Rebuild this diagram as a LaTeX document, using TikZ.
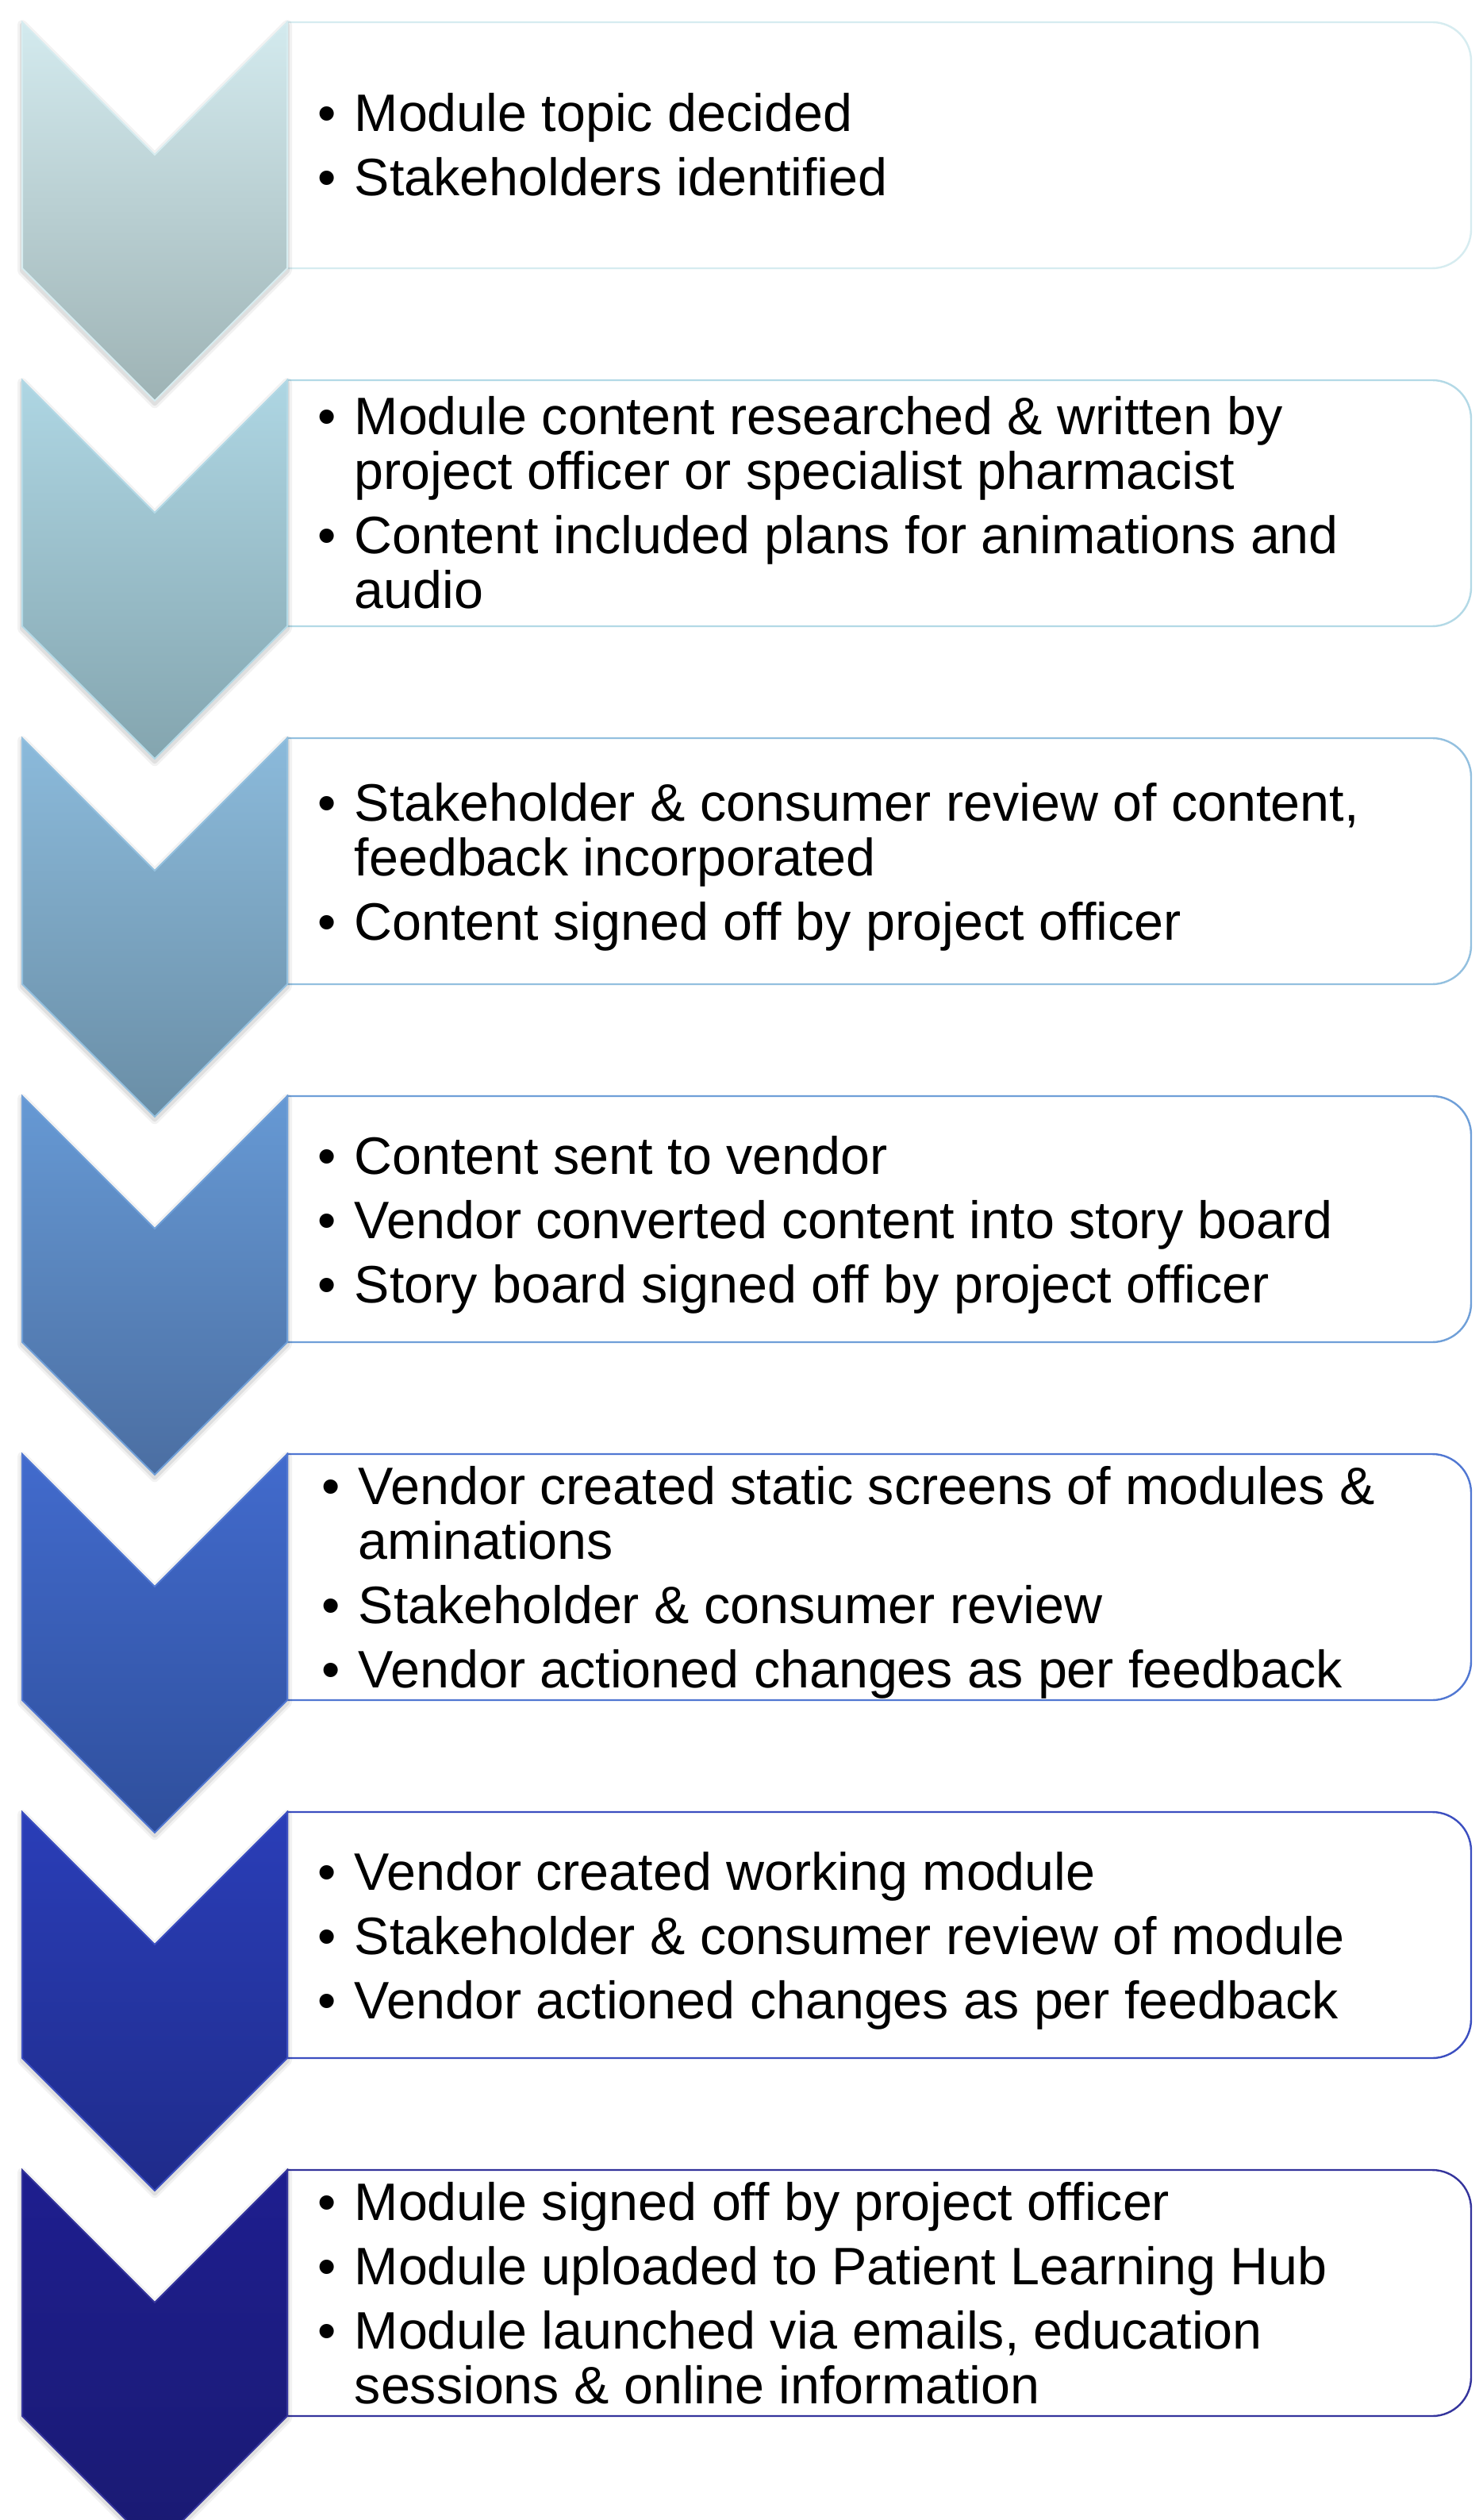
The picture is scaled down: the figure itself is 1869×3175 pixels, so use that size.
\documentclass[tikz,border=0pt]{standalone}
\usepackage{fontspec}
\setmainfont{Liberation Sans}

% chevron fills (top / bottom) and edge colours, light to dark
\definecolor{topA}{HTML}{D3EAEE}\definecolor{botA}{HTML}{9EB3B5}\definecolor{edgeA}{HTML}{D6ECF0}
\definecolor{topB}{HTML}{AED6E3}\definecolor{botB}{HTML}{84A5AF}\definecolor{edgeB}{HTML}{B3D9E6}
\definecolor{topC}{HTML}{8BBADB}\definecolor{botC}{HTML}{6A8EA6}\definecolor{edgeC}{HTML}{93C0DF}
\definecolor{topD}{HTML}{6699D4}\definecolor{botD}{HTML}{4B6EA2}\definecolor{edgeD}{HTML}{6F9FD8}
\definecolor{topE}{HTML}{426BCD}\definecolor{botE}{HTML}{2F4F9C}\definecolor{edgeE}{HTML}{5077D2}
\definecolor{topF}{HTML}{2A3EB8}\definecolor{botF}{HTML}{1F2B8A}\definecolor{edgeF}{HTML}{3B4EC0}
\definecolor{topG}{HTML}{1E1E8F}\definecolor{botG}{HTML}{1A1A72}\definecolor{edgeG}{HTML}{34349C}

\tikzset{
  chevedge/.style={line width=0.5pt, line join=miter},
  boxline/.style={line width=0.6pt, fill=white},
  steptext/.style={inner sep=0pt, anchor=base west},
}

\newcommand\stepbullet{\makebox[11.5pt][l]{•}}
\newcommand\stepcont{\hspace*{11.5pt}}

% #1 node name, #2 top edge, #3 colour suffix, #4 x of text, #5 first baseline, #6 text
\newcommand\processstep[6]{%
  % white text panel with rounded right corners
  \draw[boxline, draw=edge#3] (362,#2) [rounded corners=12.25pt] -- (1854,#2)
      -- (1854,#2+310) [sharp corners] -- (362,#2+310) -- cycle;
  % soft shadow under the chevron
  \begin{scope}[yshift=-0.8pt]
    \draw[black, opacity=0.05, line width=3pt, line join=round]
      (28,#2) -- (195,#2+167) -- (362,#2) -- (362,#2+310) -- (195,#2+477) -- (28,#2+310) -- cycle;
    \draw[black, opacity=0.08, line width=1.5pt, line join=round]
      (28,#2) -- (195,#2+167) -- (362,#2) -- (362,#2+310) -- (195,#2+477) -- (28,#2+310) -- cycle;
  \end{scope}
  % chevron
  \shade[top color=top#3, bottom color=bot#3]
    (28,#2) -- (195,#2+167) -- (362,#2) -- (362,#2+310) -- (195,#2+477) -- (28,#2+310) -- cycle;
  \draw[chevedge, draw=edge#3]
    (28,#2) -- (195,#2+167) -- (362,#2) -- (362,#2+310) -- (195,#2+477) -- (28,#2+310) -- cycle;
  % bullet text
  \node[steptext] (#1) at (#4,#5) {\parbox[t]{360pt}{\fontsize{16.6pt}{17.25pt}\selectfont\raggedright #6}};
}

\begin{document}
\begin{tikzpicture}[x=0.25pt,y=-0.25pt]
\useasboundingbox (0,0) rectangle (1869,3175);
\fill[white] (0,0) rectangle (1869,3175);

\processstep{stepone}{28}{A}{400}{166}{%
\stepbullet Module topic decided\\[3pt]
\stepbullet Stakeholders identified}

\processstep{steptwo}{479}{B}{400}{548}{%
\stepbullet Module content researched \& written by\\
\stepcont project officer or specialist pharmacist\\[3pt]
\stepbullet Content included plans for animations and\\
\stepcont audio}

\processstep{stepthree}{930}{C}{400}{1034}{%
\stepbullet Stakeholder \& consumer review of content,\\
\stepcont feedback incorporated\\[3pt]
\stepbullet Content signed off by project officer}

\processstep{stepfour}{1381}{D}{400}{1479}{%
\stepbullet Content sent to vendor\\[3pt]
\stepbullet Vendor converted content into story board\\[3pt]
\stepbullet Story board signed off by project officer}

\processstep{stepfive}{1832}{E}{405}{1895}{%
\stepbullet Vendor created static screens of modules \&\\
\stepcont aminations\\[3pt]
\stepbullet Stakeholder \& consumer review\\[3pt]
\stepbullet Vendor actioned changes as per feedback}

\processstep{stepsix}{2283}{F}{400}{2381}{%
\stepbullet Vendor created working module\\[3pt]
\stepbullet Stakeholder \& consumer review of module\\[3pt]
\stepbullet Vendor actioned changes as per feedback}

\processstep{stepseven}{2734}{G}{400}{2797}{%
\stepbullet Module signed off by project officer\\[3pt]
\stepbullet Module uploaded to Patient Learning Hub\\[3pt]
\stepbullet Module launched via emails, education\\
\stepcont sessions \& online information}
\end{tikzpicture}
\end{document}
